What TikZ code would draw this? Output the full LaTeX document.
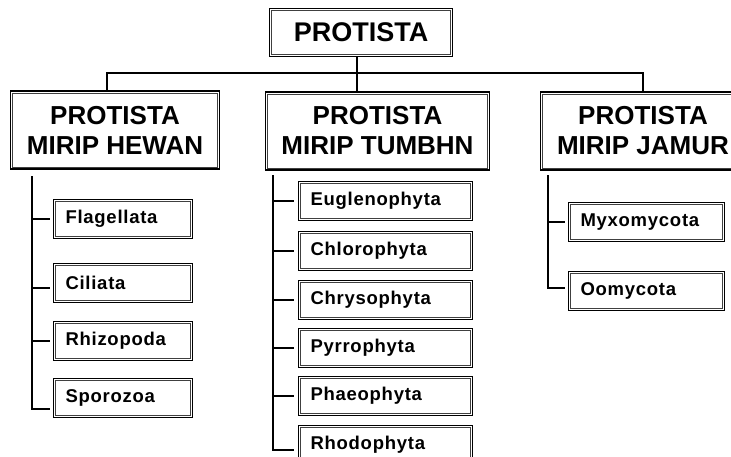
\documentclass[tikz,border=0pt]{standalone}
\usepackage{fontspec}
\setmainfont{Liberation Sans}
\usetikzlibrary{positioning, calc}

\tikzset{
    box/.style={draw, line width=1.5pt, inner sep=0pt},
    inbox/.style={line width=0.7pt, draw=black!75},
    head/.style={box, minimum width=183pt, minimum height=48pt, font=\fontsize{27}{30}\selectfont\bfseries},
    grp/.style={box, minimum height=78pt, align=center, font=\fontsize{26}{30}\selectfont\bfseries},
    leaf/.style={box, minimum height=39pt, inner xsep=12pt, align=left, font=\fontsize{18.5}{20}\selectfont\bfseries\addfontfeature{LetterSpace=4}},
    wire/.style={line width=1.6pt}
}

\begin{document}
\begin{tikzpicture}[x=1pt, y=-1pt]
    \useasboundingbox (0, 0) rectangle (731, 457);
    \clip (0, 0) rectangle (731, 457);

    % Root and the three groups
    \node[head] (pro) at (361, 32.5) {PROTISTA};
    \node[grp, minimum width=209pt] (hew) at (115, 130) {PROTISTA\\MIRIP HEWAN};
    \node[grp, minimum width=224pt] (tum) at (377.5, 131) {PROTISTA\\MIRIP TUMBHN};
    \node[grp, minimum width=205pt] (jam) at (643, 131) {PROTISTA\\MIRIP JAMUR};

    \coordinate (bl) at (107, 73);
    \coordinate (bm) at (357, 73);
    \coordinate (br) at (643, 73);
    \draw[wire] (bl |- hew.north) -- (bl) -- (br) -- (br |- jam.north);
    \draw[wire] (bm |- pro.south) -- (bm |- tum.north);

    % Protista mirip hewan
    \node[leaf, text width=115pt] (fla) at (123, 219) {Flagellata};
    \node[leaf, text width=115pt] (cil) at (123, 283) {Ciliata};
    \node[leaf, text width=115pt] (rhi) at (123, 341) {Rhizopoda};
    \node[leaf, text width=115pt] (spo) at (123, 398) {Sporozoa};

    % Protista mirip tumbuhan
    \node[leaf, text width=150pt] (eug) at (385.5, 201) {Euglenophyta};
    \node[leaf, text width=150pt] (chl) at (385.5, 251) {Chlorophyta};
    \node[leaf, text width=150pt] (chr) at (385.5, 300) {Chrysophyta};
    \node[leaf, text width=150pt] (pyr) at (385.5, 348) {Pyrrophyta};
    \node[leaf, text width=150pt] (pha) at (385.5, 396) {Phaeophyta};
    \node[leaf, text width=150pt] (rho) at (385.5, 445) {Rhodophyta};

    % Protista mirip jamur
    \node[leaf, text width=132pt] (myx) at (646.5, 222) {Myxomycota};
    \node[leaf, text width=132pt] (oom) at (646.5, 291) {Oomycota};

    % inner line of every box
    \foreach \n in {pro, hew, tum, jam, fla, cil, rhi, spo, eug, chl, chr, pyr, pha, rho, myx, oom}
        \draw[inbox] ([shift={(2.8pt,-2.8pt)}]\n.north west) rectangle ([shift={(-2.8pt,2.8pt)}]\n.south east);

    % Spines with their stubs
    \coordinate (sl) at (32, 176);
    \coordinate (sm) at (273, 175);
    \coordinate (sr) at (548, 175);
    \draw[wire] ([shift={(-3pt,-11pt)}]spo.west) -| (sl);
    \draw[wire] ([shift={(-3pt,-5pt)}]cil.west) -- +(-18pt,0);
    \foreach \n in {fla, rhi}
        \draw[wire] (sl |- \n.west) -- ([xshift=-3pt]\n.west);
    \draw[wire] ([shift={(-4pt,-5pt)}]rho.west) -| (sm);
    \foreach \n in {eug, chl, chr, pyr, pha}
        \draw[wire] (sm |- \n.west) -- ([xshift=-4pt]\n.west);
    \draw[wire] ([shift={(-3pt,3pt)}]oom.west) -| (sr);
    \draw[wire] (sr |- myx.west) -- ([xshift=-3pt]myx.west);
\end{tikzpicture}
\end{document}
